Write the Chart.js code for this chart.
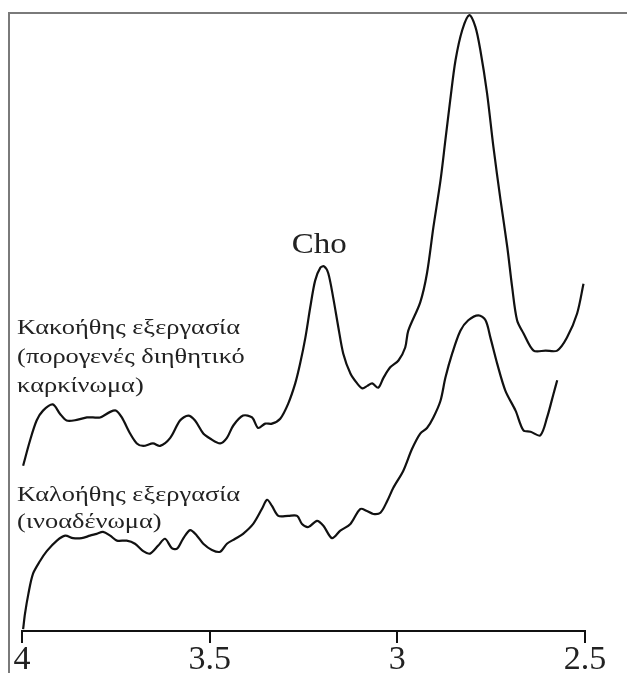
<!DOCTYPE html>
<html>
<head>
<meta charset="utf-8">
<script src="https://cdn.jsdelivr.net/npm/chart.js@4"></script>
<style>
  html, body { margin: 0; padding: 0; background: #fff; overflow: hidden; }
  #wrap { width: 627px; height: 700px; position: relative; }
</style>
</head>
<body>
<div id="wrap"><canvas id="grafico-mrs"></canvas></div>
<script>
// φάσμα κακοήθους βλάβης (ppm / σχετική ένταση)
const kakoPpm = [3.997, 3.979, 3.961, 3.944, 3.918, 3.899, 3.881, 3.854, 3.827, 3.811, 3.792, 3.765, 3.749, 3.734,
  3.712, 3.694, 3.677, 3.651, 3.632, 3.605, 3.579, 3.557, 3.539, 3.517, 3.499, 3.472, 3.454, 3.437, 3.411, 3.387,
  3.371, 3.352, 3.334, 3.312, 3.291, 3.272, 3.259, 3.245, 3.232, 3.219, 3.205, 3.195, 3.184, 3.171, 3.157, 3.144,
  3.125, 3.107, 3.093, 3.080, 3.067, 3.051, 3.037, 3.019, 2.997, 2.979, 2.971, 2.939, 2.921, 2.904, 2.885, 2.872,
  2.859, 2.845, 2.827, 2.808, 2.792, 2.779, 2.761, 2.744, 2.725, 2.707, 2.694, 2.681, 2.664, 2.637, 2.605, 2.574,
  2.548, 2.521, 2.504];
const kakoInt = [26.7, 30.7, 34.0, 35.6, 36.6, 35.1, 34.0, 34.1, 34.5, 34.5, 34.5, 35.4, 35.6, 34.5,
  31.9, 30.3, 29.9, 30.3, 29.9, 31.2, 34.0, 34.8, 34.0, 31.9, 31.1, 30.3, 31.2, 33.2, 34.8, 34.5,
  32.8, 33.5, 33.5, 34.3, 36.7, 40.0, 43.2, 47.4, 52.3, 56.6, 58.7, 58.9, 57.8, 53.9, 49.0, 44.8,
  41.6, 40.0, 39.2, 39.6, 40.0, 39.3, 40.9, 42.6, 43.7, 45.8, 48.5, 53.1, 57.8, 65.2, 72.8, 79.3,
  85.8, 92.2, 97.1, 99.5, 97.6, 93.9, 86.9, 78.2, 69.6, 62.0, 55.5, 50.2, 48.1, 45.3, 45.3, 45.3,
  47.4, 51.3, 56.1];

// φάσμα καλοήθους βλάβης
const kaloPpm = [3.997, 3.992, 3.983, 3.971, 3.952, 3.934, 3.907, 3.885, 3.864, 3.841, 3.819, 3.801, 3.784, 3.765,
  3.747, 3.721, 3.699, 3.677, 3.659, 3.637, 3.619, 3.601, 3.587, 3.571, 3.552, 3.534, 3.517, 3.494, 3.472, 3.454,
  3.432, 3.411, 3.384, 3.361, 3.347, 3.334, 3.317, 3.291, 3.267, 3.254, 3.237, 3.214, 3.197, 3.174, 3.152, 3.125,
  3.099, 3.081, 3.064, 3.045, 3.027, 3.011, 2.984, 2.961, 2.939, 2.921, 2.904, 2.885, 2.872, 2.854, 2.832, 2.811,
  2.784, 2.765, 2.752, 2.734, 2.712, 2.685, 2.664, 2.645, 2.619, 2.601, 2.584, 2.574];
const kaloInt = [0.3, 2.8, 6.0, 9.2, 11.3, 12.9, 14.6, 15.4, 15.0, 15.0, 15.4, 15.7, 16.0, 15.4,
  14.6, 14.6, 14.1, 12.9, 12.5, 13.8, 14.9, 13.4, 13.3, 14.9, 16.3, 15.4, 14.1, 13.1, 12.8, 14.1,
  14.9, 15.7, 17.3, 19.7, 21.2, 20.2, 18.6, 18.6, 18.6, 17.3, 16.8, 17.8, 17.0, 15.0, 16.2, 17.3,
  19.7, 19.4, 18.9, 19.1, 21.0, 23.1, 25.9, 29.4, 31.9, 32.8, 34.5, 37.2, 40.9, 44.8, 48.5, 50.2,
  51.0, 50.2, 47.4, 43.2, 38.8, 35.6, 32.4, 32.2, 31.6, 34.5, 38.3, 40.5];

// άξονας x
const xTicks = [4, 3.5, 3, 2.5];

// κείμενα πάνω στο γράφημα
const labelTexts = ['Cho', 'Κακοήθης εξεργασία', '(πορογενές διηθητικό', 'καρκίνωμα)', 'Καλοήθης εξεργασία', '(ινοαδένωμα)'];
const labelPpm = [3.208, 4.013, 4.013, 4.013, 4.013, 4.013];
const labelInt = [62.3, 48.9, 44.2, 39.5, 22.0, 17.5];

const toPoints = (xs, ys) => xs.map((x, i) => ({ x: x, y: ys[i] }));

// πλαίσιο (αριστερή και πάνω γραμμή)
const framePlugin = {
  id: 'frame',
  beforeDraw(chart) {
    const { ctx, chartArea } = chart;
    ctx.save();
    ctx.strokeStyle = '#7a7a7a';
    ctx.lineWidth = 2;
    ctx.beginPath();
    ctx.moveTo(chartArea.left - 13, chart.height);
    ctx.lineTo(chartArea.left - 13, chartArea.top + 1);
    ctx.lineTo(chart.width, chartArea.top + 1);
    ctx.stroke();
    ctx.restore();
  }
};

// ετικέτες κειμένου (ελαφρώς τεντωμένες οριζόντια όπως στο πρωτότυπο)
const labelsPlugin = {
  id: 'labels',
  afterDatasetsDraw(chart) {
    const { ctx, scales } = chart;
    ctx.save();
    ctx.fillStyle = '#222';
    ctx.textBaseline = 'middle';
    labelTexts.forEach((t, i) => {
      const px = scales.x.getPixelForValue(labelPpm[i]);
      const py = scales.y.getPixelForValue(labelInt[i]);
      let sx;
      if (i === 0) {
        ctx.font = '30px "Liberation Serif"';
        ctx.textAlign = 'center';
        sx = 1.1;
      } else {
        ctx.font = '22px "Liberation Serif"';
        ctx.textAlign = 'left';
        sx = 1.2;
      }
      ctx.save();
      ctx.translate(px, py);
      ctx.scale(sx, 1);
      ctx.fillText(t, 0, 0);
      ctx.restore();
    });
    ctx.restore();
  }
};

new Chart(document.getElementById('grafico-mrs'), {
  type: 'scatter',
  data: {
    datasets: [
      {
        label: 'Κακοήθης',
        data: toPoints(kakoPpm, kakoInt),
        showLine: true,
        borderColor: '#111',
        borderWidth: 2.2,
        pointRadius: 0,
        tension: 0.3,
        fill: false
      },
      {
        label: 'Καλοήθης',
        data: toPoints(kaloPpm, kaloInt),
        showLine: true,
        borderColor: '#111',
        borderWidth: 2.2,
        pointRadius: 0,
        tension: 0.3,
        fill: false
      }
    ]
  },
  options: {
    responsive: true,
    maintainAspectRatio: false,
    animation: false,
    layout: {
      padding: { left: 22, right: 42, top: 12, bottom: 23 }
    },
    scales: {
      x: {
        type: 'linear',
        reverse: true,
        min: 2.5,
        max: 4,
        afterBuildTicks: (axis) => { axis.ticks = xTicks.map(v => ({ value: v })); },
        afterFit: (axis) => { axis.height = 46; },
        grid: {
          drawOnChartArea: false,
          drawTicks: true,
          tickLength: 12,
          color: '#111',
          lineWidth: 2
        },
        border: { display: true, color: '#111', width: 2 },
        ticks: {
          color: '#222',
          padding: 0,
          maxRotation: 0,
          callback: (v) => String(v),
          font: { family: 'Liberation Serif', size: 34, lineHeight: 1 }
        }
      },
      y: {
        display: false,
        min: 0,
        max: 100
      }
    },
    plugins: {
      legend: { display: false },
      tooltip: { enabled: false }
    }
  },
  plugins: [framePlugin, labelsPlugin]
});
</script>
</body>
</html>
